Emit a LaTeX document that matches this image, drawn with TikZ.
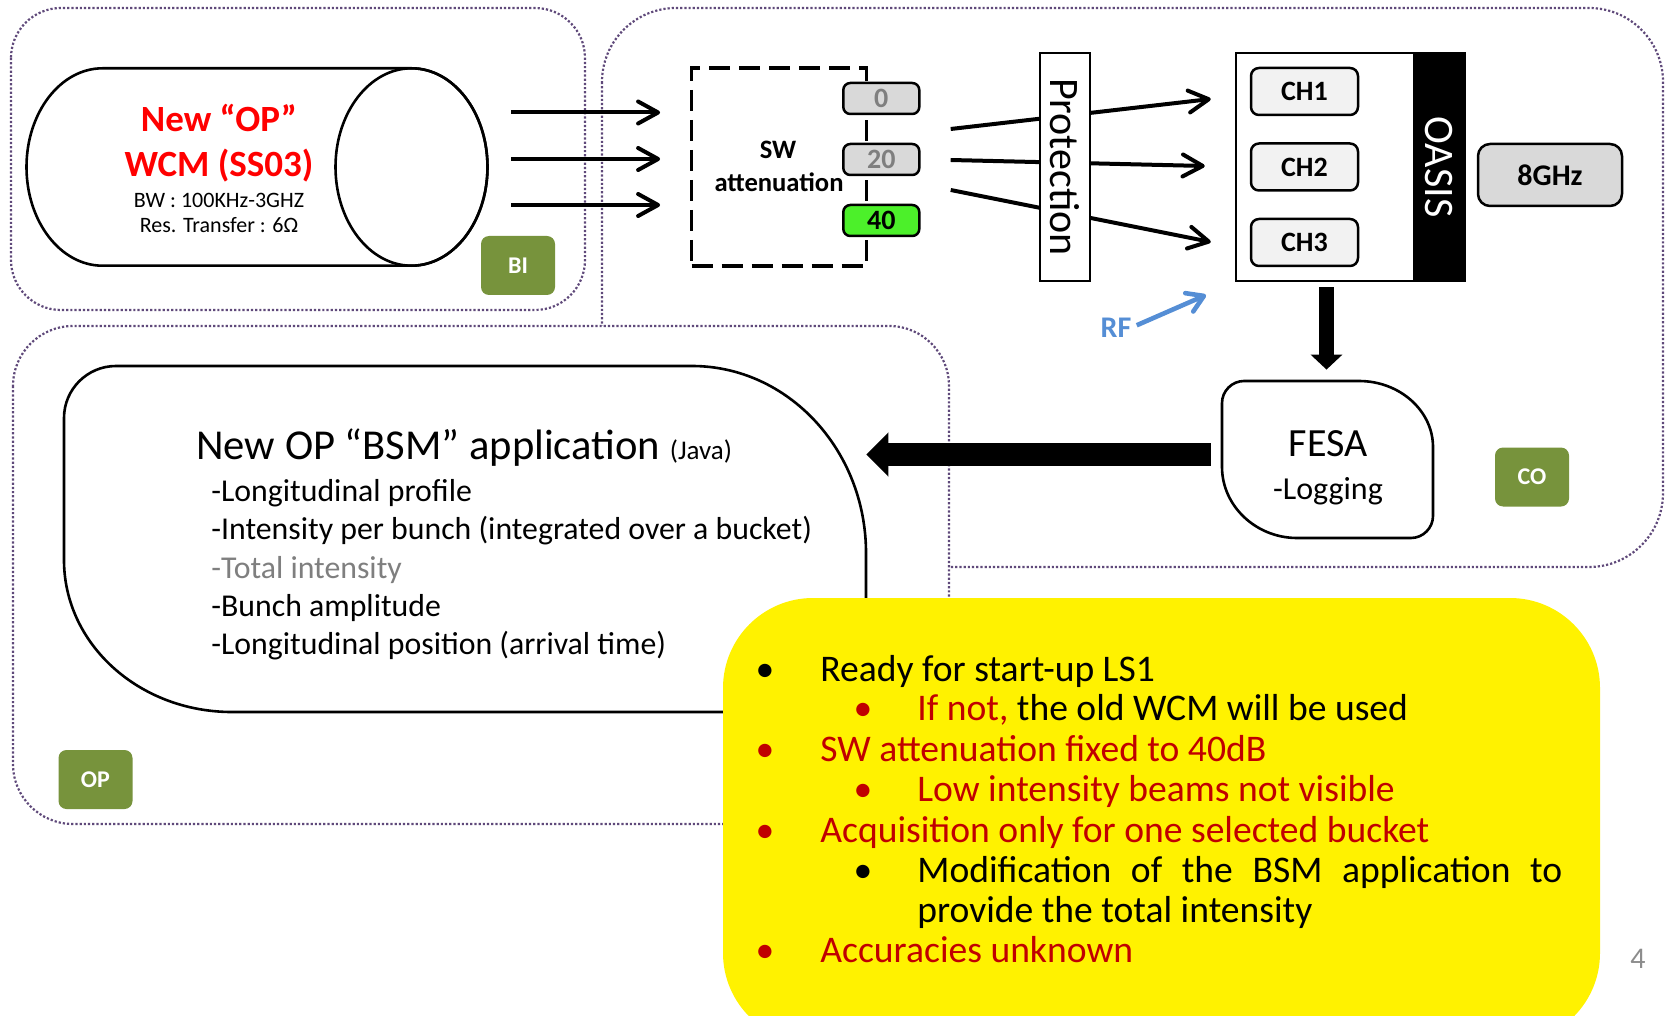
\documentclass[tikz,border=0pt]{standalone}
\usepackage{fontspec}
\setmainfont{Carlito}
\usetikzlibrary{arrows.meta}
\definecolor{dotc}{HTML}{5F497A}
\definecolor{grn}{HTML}{77933C}
\definecolor{attg}{HTML}{D9D9D9}
\definecolor{attgreen}{HTML}{4CF02A}
\definecolor{chg}{HTML}{F2F2F2}
\definecolor{rfblue}{HTML}{558ED5}
\definecolor{dred}{HTML}{C00000}
\definecolor{txtgray}{HTML}{7F7F7F}
\definecolor{pggray}{HTML}{8C8C8C}
\definecolor{wcmred}{HTML}{FF0000}
\newcommand\myfs[1]{\fontsize{#1pt}{#1pt}\selectfont}
\begin{document}
\begin{tikzpicture}[x=0.5pt,y=-0.5pt,
  zone/.style={draw=dotc, line width=1.1pt, densely dotted},
  tag/.style={fill=grn, rounded corners=4pt, text=white, font=\bfseries\myfs{12}, minimum width=37pt, minimum height=29.5pt, inner sep=0pt},
  edge/.style={line width=1.3pt},
  attbox/.style={draw, line width=1.25pt, rounded corners=3.5pt, minimum width=38pt, minimum height=15.5pt, inner sep=0pt, font=\bfseries\myfs{14}},
  chbox/.style={draw, fill=chg, line width=1.25pt, rounded corners=4pt, minimum width=53.5pt, minimum height=23.5pt, inner sep=0pt, font=\bfseries\myfs{14}},
  thinarrow/.style={line width=2pt, -{Straight Barb[length=10pt,width=11pt,round]}},
  lbl/.style={inner sep=0pt, anchor=base west},
  ctr/.style={inner sep=0pt, anchor=base},
]
\useasboundingbox (0,0) rectangle (1665,1016);
\clip (0,0) rectangle (1665,1016);

% zones
\draw[zone, rounded corners=37pt] (602,8) rectangle (1663,567);
\draw[zone, rounded corners=25pt] (11,8) rectangle (585,310);
\draw[zone, fill=white, rounded corners=30pt] (13,326) rectangle (949,824);

\node[tag] (bi) at (518,265.5) {BI};
\node[tag] (co) at (1532,477) {CO};
\node[tag] (op) at (95.5,779.5) {OP};

% cylinder
\draw[edge, fill=white] (102.5,68.3) -- (411.5,68.3) arc[start angle=90, end angle=-90, x radius=38pt, y radius=49.35pt] -- (102.5,265.7) arc[start angle=270, end angle=90, x radius=38pt, y radius=49.35pt] -- cycle;
\draw[edge] (411.5,167) ellipse[x radius=38pt, y radius=49.35pt];
\node[inner sep=0pt, minimum width=231pt, minimum height=98.7pt] (cyl) at (257.75,167) {};
\node[ctr, text=wcmred, font=\bfseries\myfs{18.5}] (cylt1) at (219,132) {New “OP”};
\node[ctr, text=wcmred, font=\bfseries\myfs{18.5}] (cylt2) at (219,177) {WCM (SS03)};
\node[ctr, font=\myfs{11}] (cylt3) at (219,208) {BW : 100KHz-3GHZ};
\node[ctr, font=\myfs{11}] (cylt4) at (219,233) {Res. Transfer : 6Ω};

% SW attenuation
\node[draw, line width=1.6pt, dash pattern=on 10.5pt off 4.5pt, minimum width=87.5pt, minimum height=99pt, inner sep=0pt] (sw) at (779.2,167) {};
\node[ctr, font=\bfseries\myfs{13.3}] (swt1) at (778,159) {SW};
\node[ctr, font=\bfseries\myfs{13.3}] (swt2) at (779,192) {attenuation};
\node[attbox, fill=attg, text=txtgray] (a0) at (881.3,98.5) {0};
\node[attbox, fill=attg, text=txtgray] (a20) at (881.3,159.5) {20};
\node[attbox, fill=attgreen] (a40) at (881.3,220.5) {40};

\draw[thinarrow] ([xshift=11.1pt,yshift=27.25pt]cyl.east) -- ([xshift=-15pt,yshift=27.25pt]sw.west);
\draw[thinarrow] ([xshift=11.1pt,yshift=4pt]cyl.east) -- ([xshift=-15pt,yshift=4pt]sw.west);
\draw[thinarrow] ([xshift=11.1pt,yshift=-19pt]cyl.east) -- ([xshift=-15pt,yshift=-19pt]sw.west);

% OASIS
\node[draw, fill=white, line width=1.25pt, minimum width=114.5pt, minimum height=114pt, inner sep=0pt] (oasis) at (1350.5,167) {};
\fill (1413,53) rectangle (1465,281);
\node[rotate=-90, text=white, font=\myfs{21}, inner sep=0pt] (oasist) at (1439,167) {OASIS};
\node[chbox] (ch1) at (1304.5,91.5) {CH1};
\node[chbox] (ch2) at (1304.5,167) {CH2};
\node[chbox] (ch3) at (1304.5,242.5) {CH3};
\node[draw, fill=attg, rounded corners=6pt, line width=1.25pt, minimum width=72pt, minimum height=31pt, inner sep=0pt, font=\bfseries\myfs{15}] (ghz) at (1550,175) {8GHz};

% lines through protection
\draw[thinarrow] ([xshift=41.2pt,yshift=19pt]sw.east) -- ([xshift=-12pt,yshift=34pt]oasis.west);
\draw[thinarrow] ([xshift=41.2pt,yshift=3.5pt]sw.east) -- ([xshift=-15pt,yshift=0.5pt]oasis.west);
\draw[thinarrow] ([xshift=41.2pt,yshift=-11.5pt]sw.east) -- ([xshift=-12pt,yshift=-37.5pt]oasis.west);
\node[draw, fill=white, line width=1.25pt, rotate=-90, minimum width=114pt, minimum height=25pt, inner sep=0pt, font=\myfs{21}] (prot) at (1065,167) {Protection};

% RF
\node[inner sep=0pt, anchor=base, text=rfblue, font=\bfseries\myfs{15}] (rf) at (1116,337) {RF};
\coordinate (rftip) at (1206,295);
\draw[rfblue, line width=2.3pt, -{Straight Barb[length=8pt,width=10pt,round]}] ([xshift=2.5pt,yshift=1pt]rf.east) -- (rftip);

% FESA
\node[minimum width=105.5pt, minimum height=78.5pt, inner sep=0pt] (fesa) at (1327.5,459.5) {};
\draw[edge, fill=white] (1222,403) .. controls (1222,391) and (1232,381) .. (1244,381) -- (1359,381) .. controls (1400,381) and (1433,411) .. (1433,447) -- (1433,516) .. controls (1433,528) and (1423,538) .. (1411,538) -- (1297,538) .. controls (1256,538) and (1222,506) .. (1222,467) -- cycle;
\node[ctr, font=\myfs{20}] (fesat1) at (1328,456) {FESA};
\node[ctr, font=\myfs{16}] (fesat2) at (1328,499) {-Logging};

\coordinate (dtop) at (oasis.south -| fesa.north);
\draw[line width=7.5pt, -{Triangle[length=7.5pt,width=15.5pt]}] ([yshift=-2.5pt,xshift=-0.5pt]dtop) -- ([yshift=5.5pt,xshift=-0.5pt]fesa.north);

% BSM
\node[minimum width=401pt, minimum height=173pt, inner sep=0pt] (bsm) at (465,539) {};
\draw[edge, fill=white] (64,418) .. controls (64,389.3) and (87.3,366) .. (116,366) -- (692,366) .. controls (788,366) and (866,450) .. (866,553) -- (866,702) .. controls (866,707.5) and (860.5,712) .. (856,712) -- (232,712) .. controls (139,712) and (64,644) .. (64,560) -- cycle;
\node[lbl, font=\myfs{21.3}] (bsmt) at (196,459) {New OP “BSM” application {\myfs{13.5}(Java)}};
\node[lbl, font=\myfs{15.9}] (l1) at (211,501) {-Longitudinal profile};
\node[lbl, font=\myfs{15.9}] (l2) at (211,539) {-Intensity per bunch (integrated over a bucket)};
\node[lbl, font=\myfs{15.9}, text=txtgray] (l3) at (211,578) {-Total intensity};
\node[lbl, font=\myfs{15.9}] (l4) at (211,616) {-Bunch amplitude};
\node[lbl, font=\myfs{15.9}] (l5) at (211,654) {-Longitudinal position (arrival time)};

\coordinate (fstart) at ([xshift=-5.5pt,yshift=2.5pt]fesa.west);
\draw[line width=11.5pt, -{Triangle[length=11pt,width=21.5pt]}] (fstart) -- (bsm.east |- fstart);

% yellow note
\node[fill=yellow, rounded corners=45pt, minimum width=438.5pt, minimum height=222.5pt, inner sep=0pt] (note) at (1161.5,820.5) {};
\begin{scope}[font=\myfs{18.8}]
\node[ctr] (b1) at (765,681) {•};
\node[lbl] (y1) at (820,681) {Ready for start-up LS1};
\node[ctr, text=dred] (b2) at (863,720) {•};
\node[lbl] (y2) at (917,720) {{\color{dred}If not,} the old WCM will be used};
\node[ctr, text=dred] (b3) at (765,761) {•};
\node[lbl, text=dred] (y3) at (820,761) {SW attenuation fixed to 40dB};
\node[ctr, text=dred] (b4) at (863,801) {•};
\node[lbl, text=dred] (y4) at (917,801) {Low intensity beams not visible};
\node[ctr, text=dred] (b5) at (765,842) {•};
\node[lbl, text=dred] (y5) at (820,842) {Acquisition only for one selected bucket};
\node[ctr] (b6) at (863,882) {•};
\node[lbl] (y6) at (917,882) {\makebox[322.5pt][s]{Modification of the BSM application to}};
\node[lbl] (y7) at (917,922) {provide the total intensity};
\node[ctr, text=dred] (b8) at (765,962) {•};
\node[lbl, text=dred] (y8) at (820,962) {Accuracies unknown};
\end{scope}
\node[ctr, text=pggray, font=\myfs{15}] (pg) at (1638,968) {4};
\end{tikzpicture}
\end{document}
